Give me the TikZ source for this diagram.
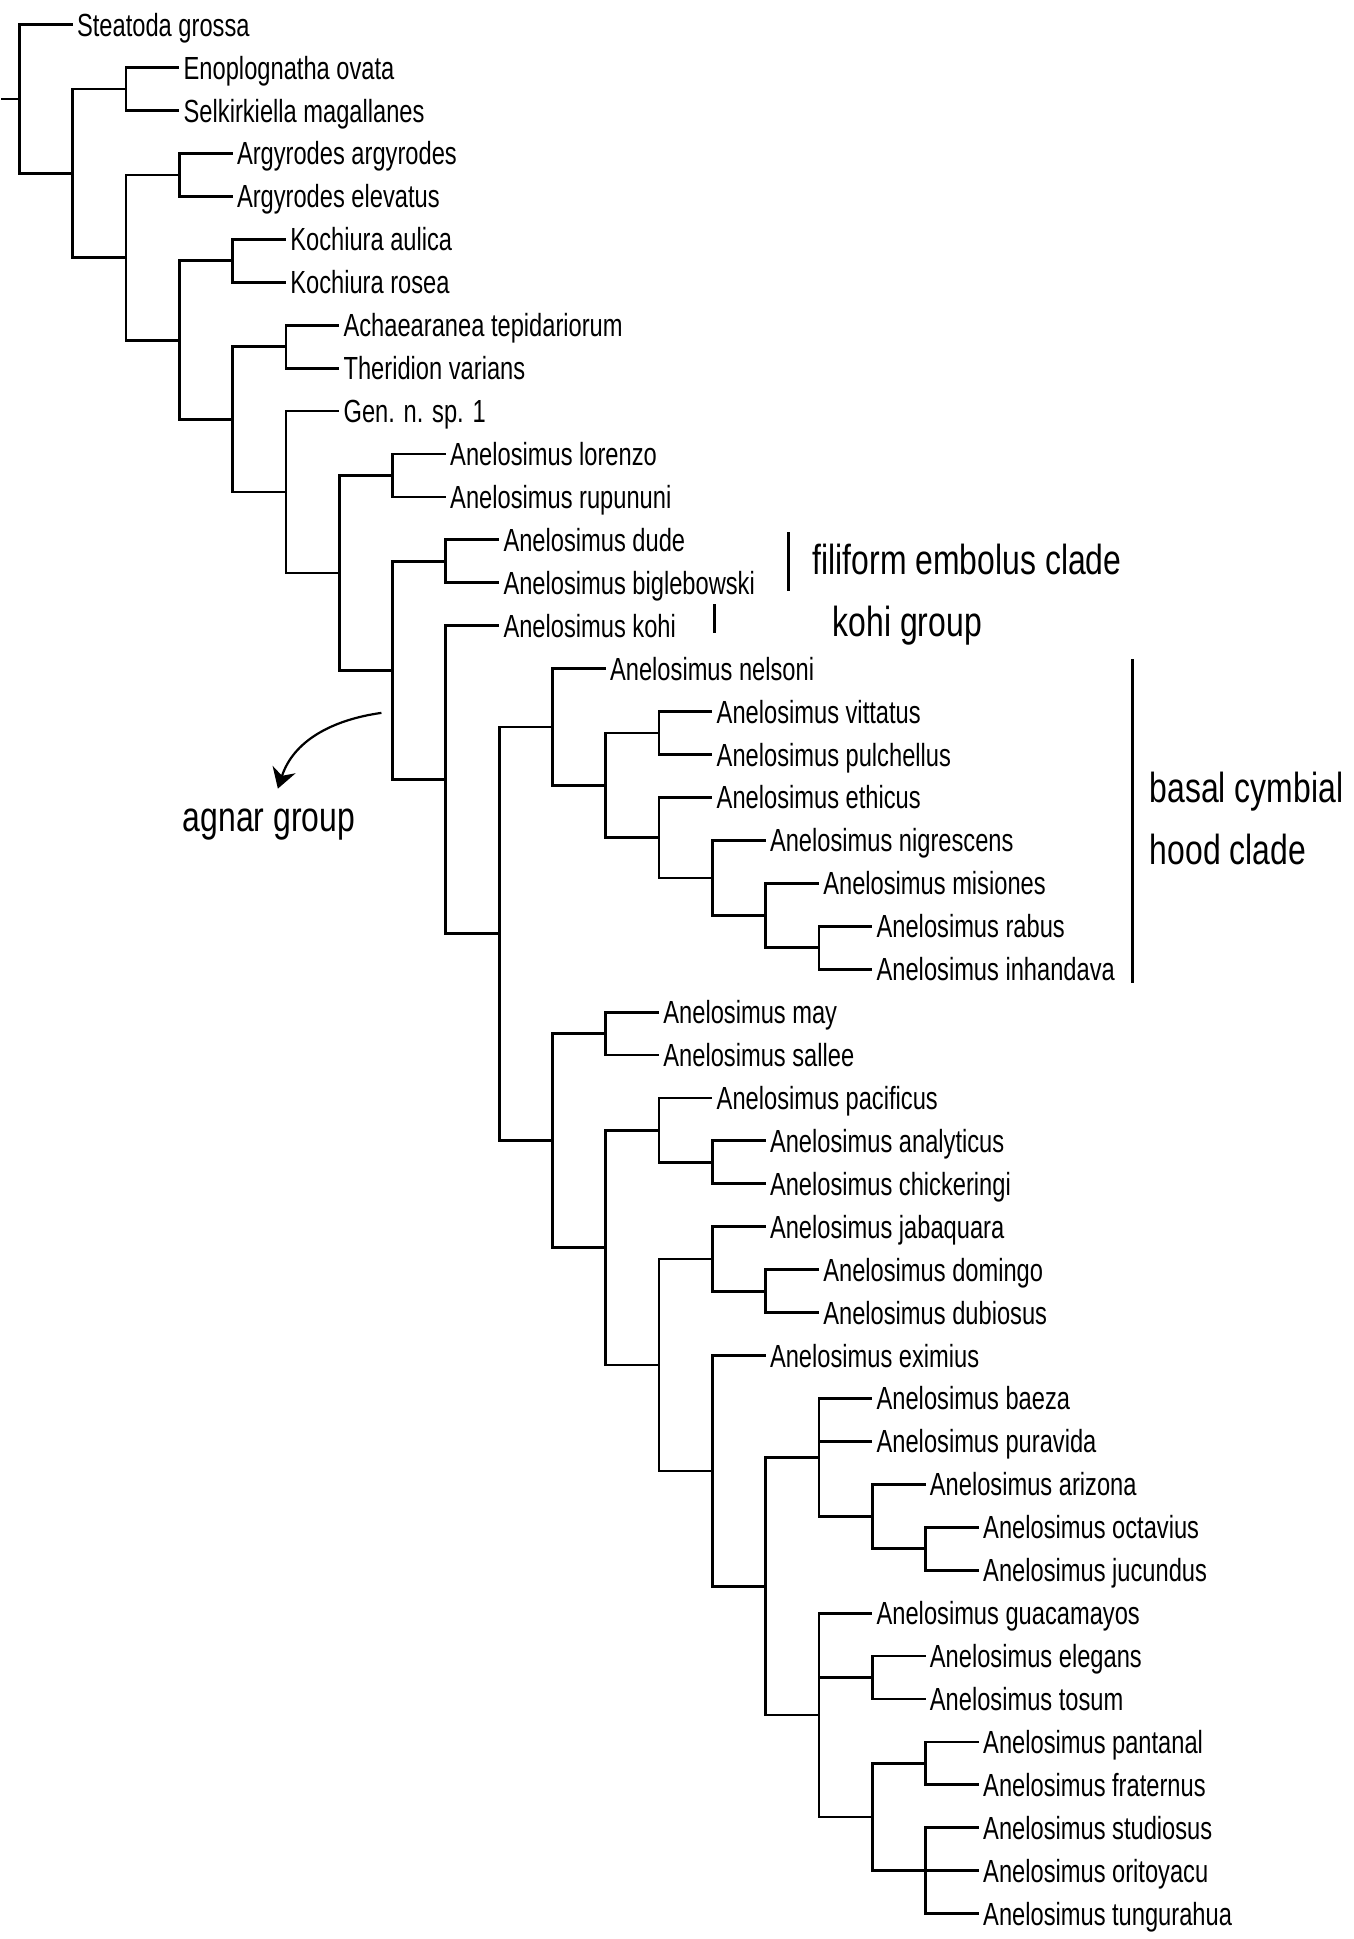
\documentclass[tikz,border=0pt]{standalone}
\usepackage{fontspec}
\newfontfamily\taxonfont[FakeStretch=0.74]{Liberation Sans}
\newfontfamily\cladefont[FakeStretch=0.76]{Liberation Sans}
\usetikzlibrary{arrows.meta,positioning,calc}

\begin{document}
\begin{tikzpicture}[x=26.65pt, y=-21.465pt,
    branch/.style={line width=1.4pt},
    taxon/.style={anchor=west, inner xsep=2pt, inner ysep=0pt, text height=11.5pt, text depth=0pt,
      font=\taxonfont\fontsize{16}{19}\selectfont},
    clade/.style={anchor=west, inner sep=0pt, text height=15pt, text depth=0pt,
      font=\cladefont\fontsize{21}{25}\selectfont},
    cladebar/.style={line width=1.8pt}]

  \fill[white] (-0.3377,-0.5754) rectangle (25.028,44.591);

  % terminal taxa: level/row/name/label
  \foreach \lv/\rw/\nm/\tx in {
      1/0/steatoda/Steatoda grossa,
      3/1/enoplognatha/Enoplognatha ovata,
      3/2/selkirkiella/Selkirkiella magallanes,
      4/3/argyrodes/Argyrodes argyrodes,
      4/4/elevatus/Argyrodes elevatus,
      5/5/aulica/Kochiura aulica,
      5/6/rosea/Kochiura rosea,
      6/7/achaearanea/Achaearanea tepidariorum,
      6/8/theridion/Theridion varians,
      6/9/gensp/Gen. n. sp. 1,
      8/10/lorenzo/Anelosimus lorenzo,
      8/11/rupununi/Anelosimus rupununi,
      9/12/dude/Anelosimus dude,
      9/13/biglebowski/Anelosimus biglebowski,
      9/14/kohi/Anelosimus kohi,
      11/15/nelsoni/Anelosimus nelsoni,
      13/16/vittatus/Anelosimus vittatus,
      13/17/pulchellus/Anelosimus pulchellus,
      13/18/ethicus/Anelosimus ethicus,
      14/19/nigrescens/Anelosimus nigrescens,
      15/20/misiones/Anelosimus misiones,
      16/21/rabus/Anelosimus rabus,
      16/22/inhandava/Anelosimus inhandava,
      12/23/may/Anelosimus may,
      12/24/sallee/Anelosimus sallee,
      13/25/pacificus/Anelosimus pacificus,
      14/26/analyticus/Anelosimus analyticus,
      14/27/chickeringi/Anelosimus chickeringi,
      14/28/jabaquara/Anelosimus jabaquara,
      15/29/domingo/Anelosimus domingo,
      15/30/dubiosus/Anelosimus dubiosus,
      14/31/eximius/Anelosimus eximius,
      16/32/baeza/Anelosimus baeza,
      16/33/puravida/Anelosimus puravida,
      17/34/arizona/Anelosimus arizona,
      18/35/octavius/Anelosimus octavius,
      18/36/jucundus/Anelosimus jucundus,
      16/37/guacamayos/Anelosimus guacamayos,
      17/38/elegans/Anelosimus elegans,
      17/39/tosum/Anelosimus tosum,
      18/40/pantanal/Anelosimus pantanal,
      18/41/fraternus/Anelosimus fraternus,
      18/42/studiosus/Anelosimus studiosus,
      18/43/oritoyacu/Anelosimus oritoyacu,
      18/44/tungurahua/Anelosimus tungurahua}
    \node[taxon] (\nm) at (\lv,\rw) {\tx};

  % internal nodes
  \coordinate (base) at (-0.3377,1.731);
  \coordinate (root) at (0,1.731);
  \coordinate (n1) at (1,3.462);
  \coordinate (ensel) at (2,1.5);
  \coordinate (n2) at (2,5.423);
  \coordinate (argy) at (3,3.5);
  \coordinate (n3) at (3,7.347);
  \coordinate (koch) at (4,5.5);
  \coordinate (n4) at (4,9.193);
  \coordinate (achther) at (5,7.5);
  \coordinate (n5) at (5,10.886);
  \coordinate (n6) at (6,12.772);
  \coordinate (lorrup) at (7,10.5);
  \coordinate (n7) at (7,15.044);
  \coordinate (dudebig) at (8,12.5);
  \coordinate (n8) at (8,17.588);
  \coordinate (n9) at (9,21.176);
  \coordinate (hood1) at (10,16.359);
  \coordinate (hood2) at (11,17.719);
  \coordinate (vitpul) at (12,16.5);
  \coordinate (hood3) at (12,18.938);
  \coordinate (hood4) at (13,19.875);
  \coordinate (hood5) at (14,20.75);
  \coordinate (rabinh) at (15,21.5);
  \coordinate (k1) at (10,25.992);
  \coordinate (maysal) at (11,23.5);
  \coordinate (k2) at (11,28.484);
  \coordinate (k3) at (12,25.75);
  \coordinate (anachi) at (13,26.5);
  \coordinate (k4) at (12,31.219);
  \coordinate (k5) at (13,28.75);
  \coordinate (domdub) at (14,29.5);
  \coordinate (k6) at (13,33.688);
  \coordinate (k7) at (14,36.375);
  \coordinate (k8) at (15,33.375);
  \coordinate (k9) at (16,34.75);
  \coordinate (octjuc) at (17,35.5);
  \coordinate (k10) at (15,39.375);
  \coordinate (eletos) at (16,38.5);
  \coordinate (k11) at (16,41.75);
  \coordinate (panfra) at (17,40.5);
  \coordinate (stuoritun) at (17,43);

  % branches between internal nodes
  \foreach \a/\b in {base/root, root/n1, n1/ensel, n1/n2, n2/argy, n2/n3, n3/koch, n3/n4,
      n4/achther, n4/n5, n5/n6, n6/lorrup, n6/n7, n7/dudebig, n7/n8, n8/n9,
      n9/hood1, hood1/hood2, hood2/vitpul, hood2/hood3, hood3/hood4, hood4/hood5, hood5/rabinh,
      n9/k1, k1/maysal, k1/k2, k2/k3, k3/anachi, k2/k4, k4/k5, k5/domdub, k4/k6, k6/k7,
      k7/k8, k8/k9, k9/octjuc, k7/k10, k10/eletos, k10/k11, k11/panfra, k11/stuoritun}
    \draw[branch] (\a) |- (\b);

  % terminal branches
  \foreach \a/\b in {root/steatoda, ensel/enoplognatha, ensel/selkirkiella, argy/argyrodes,
      argy/elevatus, koch/aulica, koch/rosea, achther/achaearanea, achther/theridion,
      n5/gensp, lorrup/lorenzo, lorrup/rupununi, dudebig/dude, dudebig/biglebowski,
      n8/kohi, hood1/nelsoni, vitpul/vittatus, vitpul/pulchellus, hood3/ethicus,
      hood4/nigrescens, hood5/misiones, rabinh/rabus, rabinh/inhandava, maysal/may,
      maysal/sallee, k3/pacificus, anachi/analyticus, anachi/chickeringi, k5/jabaquara,
      domdub/domingo, domdub/dubiosus, k6/eximius, k8/baeza, k8/puravida, k9/arizona,
      octjuc/octavius, octjuc/jucundus, k10/guacamayos, eletos/elegans, eletos/tosum,
      panfra/pantanal, panfra/fraternus, stuoritun/studiosus, stuoritun/oritoyacu,
      stuoritun/tungurahua}
    \draw[branch] (\a) |- (\b.west);

  % clade labels
  \draw[cladebar] (14.428,11.817) -- (14.428,13.191);
  \node[clade] (filiform) at (14.878,12.469) {filiform embolus clade};
  \draw[cladebar] (13.04,13.494) -- (13.04,14.17);
  \node[clade] (kohigroup) at (15.253,13.89) {kohi group};
  \draw[cladebar] (20.88,14.776) -- (20.88,22.323);
  \node[clade] (basal) at (21.2,17.757) {basal cymbial};
  \node[clade] (hoodclade) at (21.2,19.201) {hood clade};
  \node[clade] (agnar) at (3.058,18.433) {agnar group};
  \coordinate (agnarfrom) at (6.792,16.03);
  \draw[line width=1.1pt, -{Stealth[length=10pt,width=12pt]}]
    (agnarfrom) to[out=188,in=72] ([xshift=4.5pt,yshift=6pt]agnar.north);
\end{tikzpicture}
\end{document}
